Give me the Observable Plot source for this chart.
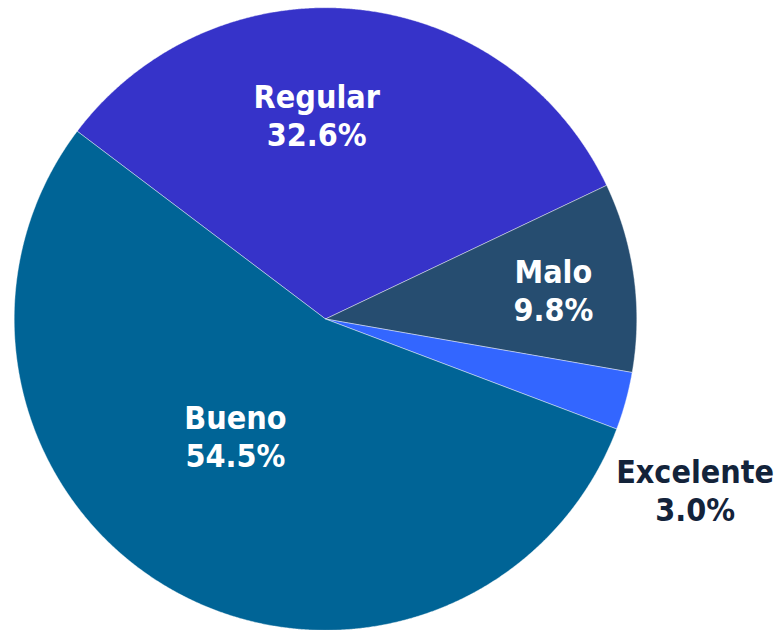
<!DOCTYPE html>
<html>
<head>
<meta charset="utf-8">
<script src="https://cdn.jsdelivr.net/npm/d3@7"></script>
<script src="https://cdn.jsdelivr.net/npm/@observablehq/plot@0.6"></script>
<style>
  html, body { margin: 0; padding: 0; background: #ffffff; }
  #chart { width: 777px; height: 630px; }
</style>
</head>
<body>
<div id="chart"></div>
<script>
// ---- data ----
const categories = ["Regular", "Malo", "Excelente", "Bueno"];
const percents = [32.6, 9.8, 3.0, 54.5];

// ---- styles ----
const sliceColors = ["#3633C9", "#264D70", "#3366FF", "#006496"];
const labelColors = ["#ffffff", "#ffffff", "#13233A", "#ffffff"];

// ---- layout ----
const W = 777, H = 630;
const cx = 325, cy = 318.5, R = 311.3;
const startDeg = -52.9;                    // clockwise from 12 o'clock
const labelAngleNudge = [-8.3, 0.5, 9.5, 8.8]; // degrees relative to slice mid-angle
const labelRadius = [0.656, 0.738, 1.308, 0.473]; // fraction of radius

const rad = d => d * Math.PI / 180;
const pie = d3.pie().sort(null).value(d => d.pct)
  .startAngle(rad(startDeg)).endAngle(rad(startDeg) + 2 * Math.PI);

const rows = categories.map((c, i) => ({cat: c, pct: percents[i], i}));
const arcs = pie(rows);

// slice outlines as polygons in unit coordinates (radius = 1)
const pts = [];
for (const a of arcs) {
  const n = Math.max(8, Math.ceil((a.endAngle - a.startAngle) / rad(0.25)));
  pts.push({cat: a.data.cat, x: 0, y: 0});
  for (let k = 0; k <= n; k++) {
    const t = a.startAngle + (a.endAngle - a.startAngle) * k / n;
    pts.push({cat: a.data.cat, x: Math.sin(t), y: Math.cos(t)});
  }
  pts.push({cat: a.data.cat, x: 0, y: 0});
}

const labels = arcs.map(a => {
  const i = a.data.i;
  const mid = (a.startAngle + a.endAngle) / 2 + rad(labelAngleNudge[i]);
  const r = labelRadius[i];
  return {
    cat: a.data.cat,
    x: r * Math.sin(mid),
    y: r * Math.cos(mid),
    text: `${a.data.cat}\n${a.data.pct.toFixed(1)}%`,
    color: labelColors[i]
  };
});

const chart = Plot.plot({
  width: W,
  height: H,
  margin: 0,
  style: {background: "#ffffff", fontStretch: "condensed"},
  x: {axis: null, domain: [-1, 1], range: [cx - R, cx + R]},
  y: {axis: null, domain: [-1, 1], range: [cy + R, cy - R]},
  color: {domain: categories, range: sliceColors},
  marks: [
    Plot.line(pts, {
      x: "x", y: "y", z: "cat",
      fill: "cat",
      stroke: "#ffffff",
      strokeWidth: 0.6,
      strokeOpacity: 0.7,
      curve: "linear"
    }),
    Plot.text(labels, {
      x: "x", y: "y",
      text: "text",
      fill: d => d.color,
      fontSize: 32,
      fontWeight: "bold",
      fontFamily: "'DejaVu Sans Condensed', 'DejaVu Sans', sans-serif",
      lineHeight: 1.2,
      textAnchor: "middle",
      lineAnchor: "middle"
    })
  ]
});
document.getElementById("chart").appendChild(chart);
</script>
</body>
</html>
